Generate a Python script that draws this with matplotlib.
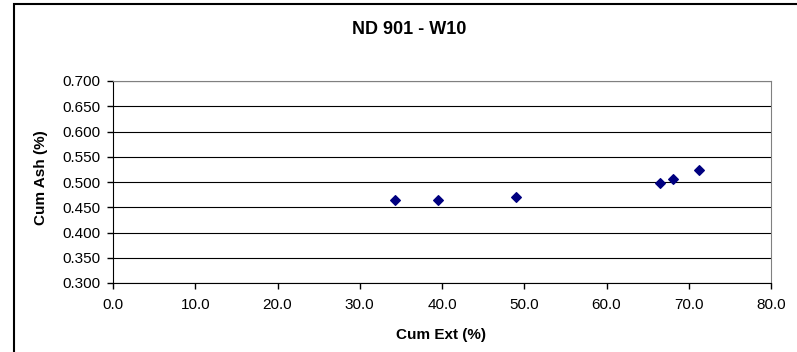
import matplotlib.pyplot as plt
from matplotlib.patches import Rectangle

plt.rcParams['font.family'] = ['Liberation Sans', 'DejaVu Sans']

cum_ext = [34.3, 39.5, 49.0, 66.5, 68.1, 71.2]
cum_ash = [0.465, 0.464, 0.470, 0.499, 0.505, 0.524]

x_ticks = [0, 10, 20, 30, 40, 50, 60, 70, 80]
y_ticks = [0.300, 0.350, 0.400, 0.450, 0.500, 0.550, 0.600, 0.650, 0.700]

W, H = 797, 352
fig = plt.figure(figsize=(W / 100, H / 100), dpi=100)

# outer chart frame (clipped on right and bottom like the original)
fig.patches.append(Rectangle((14 / W, -0.1), 1.1, (H - 4) / H + 0.1,
                             transform=fig.transFigure, fill=False,
                             edgecolor='black', linewidth=1.5))

ax = fig.add_axes([113 / W, (H - 283) / H, (771 - 113) / W, (283 - 81) / H])
ax.scatter(cum_ext, cum_ash, marker='D', s=24, color='#000080', zorder=3)

ax.set_xlim(0, 80)
ax.set_ylim(0.3, 0.7)
ax.set_xticks(x_ticks)
ax.set_yticks(y_ticks)
ax.set_xticklabels(['%.1f' % v for v in x_ticks], fontsize=11)
ax.set_yticklabels(['%.3f' % v for v in y_ticks], fontsize=11)
ax.tick_params(direction='out', length=4, width=1, color='black')
ax.tick_params(axis='x', pad=7)
ax.tick_params(axis='y', pad=5)
ax.yaxis.grid(True, color='black', linewidth=0.8)
ax.set_axisbelow(True)

ax.spines['left'].set_color('black')
ax.spines['bottom'].set_color('black')
ax.spines['right'].set_color('#808080')
ax.spines['top'].set_color('#808080')

fig.text(441 / W, 1 - 335 / H, 'Cum Ext (%)', fontsize=11, fontweight='bold',
         ha='center', va='center')
fig.text(41.5 / W, 1 - 178 / H, 'Cum Ash (%)', fontsize=11, fontweight='bold',
         ha='center', va='center', rotation=90)
fig.text(409.5 / W, 1 - 30 / H, 'ND 901 - W10', fontsize=13, fontweight='bold',
         ha='center', va='center')

fig.savefig('out.png', dpi=100)
